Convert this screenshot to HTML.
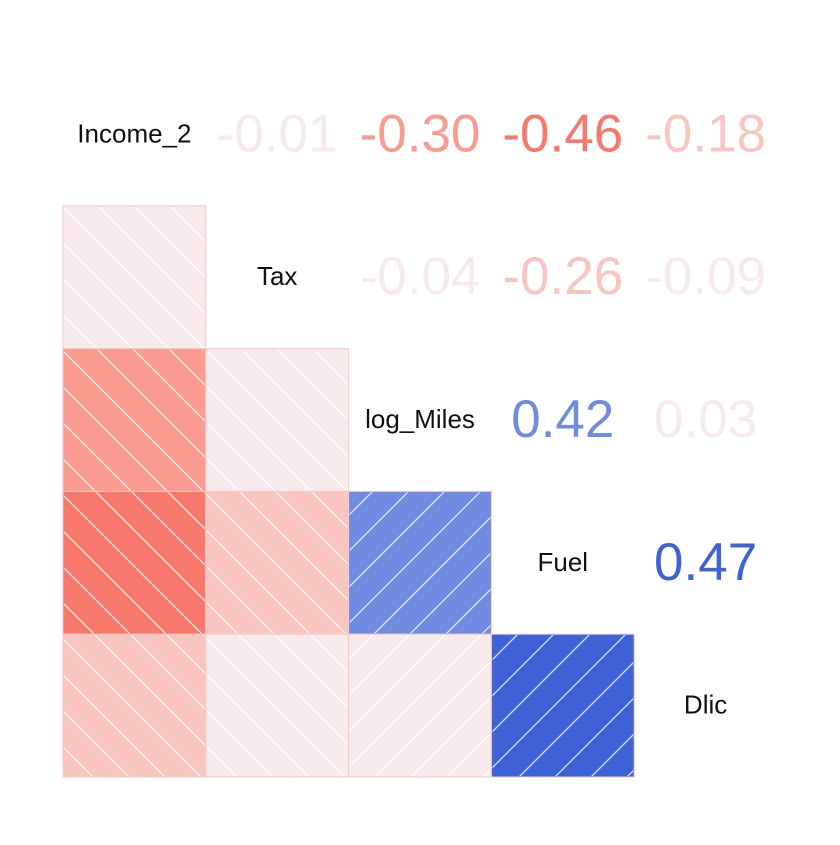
<!DOCTYPE html>
<html><head><meta charset="utf-8"><style>
body{margin:0;background:#fff}
svg text{font-family:"Liberation Sans",sans-serif}
</style></head><body>
<svg id="c" width="840" height="840" xmlns="http://www.w3.org/2000/svg">
<defs>
<pattern id="hn" patternUnits="userSpaceOnUse" width="36" height="36"><path d="M-9,-9 L45,45 M-9,27 L9,45 M27,-9 L45,9" stroke="#fff" stroke-width="1.2" stroke-opacity="0.85"/></pattern>
<pattern id="hp" patternUnits="userSpaceOnUse" width="36" height="36"><path d="M-9,45 L45,-9 M-9,9 L9,-9 M27,45 L45,27" stroke="#fff" stroke-width="1.2" stroke-opacity="0.85"/></pattern>
</defs>
</svg>
<script>
const vars=["Income_2","Tax","log_Miles","Fuel","Dlic"];
const pairRows=[0,0,0,0,1,1,1,2,2,3];
const pairCols=[1,2,3,4,2,3,4,3,4,4];
const pairR=[-0.01,-0.30,-0.46,-0.18,-0.04,-0.26,-0.09,0.42,0.03,0.47];
const x0=63,cell=142.8;
const svg=document.getElementById('c');
const NS="http://www.w3.org/2000/svg";
function col(r){const a=Math.abs(r);
 if(a<0.1)return "#f7eaec";
 if(r<0){if(a<0.3)return "#f9c5bf";if(a<0.4)return "#f99b8f";return "#f8786b";}
 if(a<0.3)return "#b9c8f0";if(a<0.45)return "#6f8ce0";return "#3d63d6";}
function pos(i){return x0+i*cell;}
vars.forEach((v,i)=>{const t=document.createElementNS(NS,'text');


t.setAttribute('x',pos(i)+cell/2);t.setAttribute('y',pos(i)+cell/2+8);
t.setAttribute('text-anchor','middle');t.setAttribute('font-size','26');t.setAttribute('fill','#111');
t.textContent=v;svg.appendChild(t);});
pairR.forEach((r,k)=>{const i=pairRows[k],j=pairCols[k],c=col(r);
 const t=document.createElementNS(NS,'text');
 
 
 t.setAttribute('x',pos(j)+cell/2);t.setAttribute('y',pos(i)+cell/2+17);
 t.setAttribute('text-anchor','middle');t.setAttribute('font-size','53');t.setAttribute('fill',c);
 t.textContent=r.toFixed(2);svg.appendChild(t);
 const g=document.createElementNS(NS,'g');
 
 
 const x=pos(i),y=pos(j);
 const b=document.createElementNS(NS,'rect');
 b.setAttribute('x',x);b.setAttribute('y',y);b.setAttribute('width',cell);b.setAttribute('height',cell);
 b.setAttribute('fill',c);b.setAttribute('stroke','#f9c9c4');b.setAttribute('stroke-width','1');g.appendChild(b);
 const h=document.createElementNS(NS,'rect');
 h.setAttribute('x',x+1);h.setAttribute('y',y+1);h.setAttribute('width',cell-2);h.setAttribute('height',cell-2);
 h.setAttribute('fill',r<0?'url(#hn)':'url(#hp)');g.appendChild(h);
 svg.appendChild(g);});
</script>
</body></html>
